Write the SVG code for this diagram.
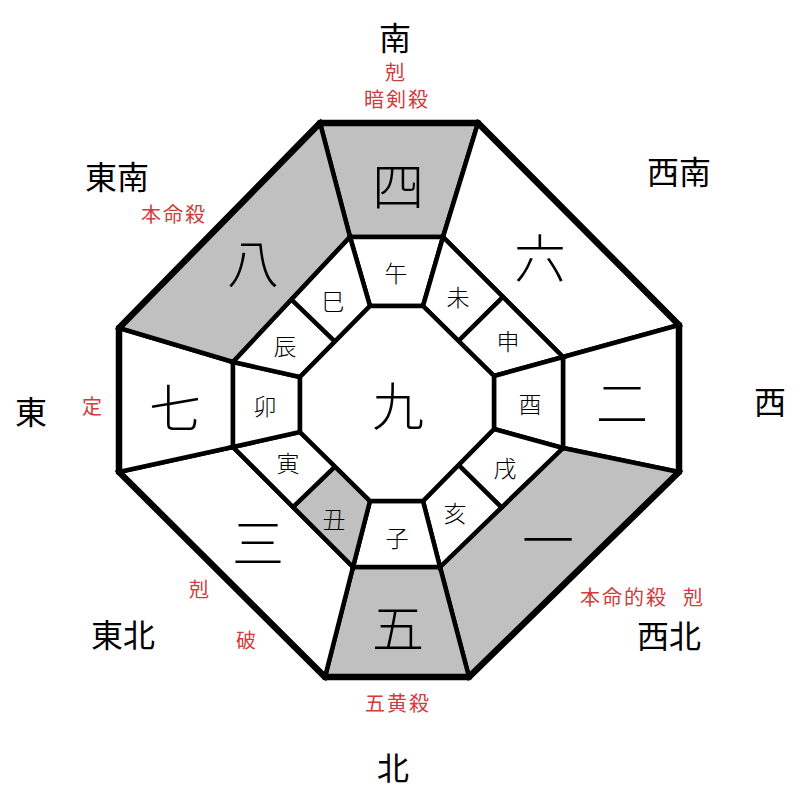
<svg xmlns="http://www.w3.org/2000/svg" width="800" height="800" viewBox="0 0 800 800">
<style>
.cell{fill:#ffffff;stroke:#000;stroke-width:4.5;stroke-linejoin:miter}
.gray{fill:#c0c0c0}
.outer{fill:none;stroke:#000;stroke-width:6.5;stroke-linejoin:miter}
text{font-family:"Noto Sans CJK JP","Noto Sans CJK SC",sans-serif;text-anchor:middle;dominant-baseline:central}
.num{font-size:52px;font-weight:300;fill:#000}
.br{font-size:23px;font-weight:300;fill:#000}
.dir{font-size:32px;fill:#000}
.red{font-size:20px;fill:#d03c3c;letter-spacing:2px}
</style>
<rect width="800" height="800" fill="#fff"/>
<g id="ring-outer">
<g id="n4"><polygon class="cell gray" points="320,123 478,123 443,237 350,237"/><text class="num" x="398" y="183">四</text></g>
<g id="n6"><polygon class="cell" points="478,123 679,325 563,357 443,237"/><text class="num" x="540" y="255">六</text></g>
<g id="n2"><polygon class="cell" points="679,325 679,472 563,448 563,357"/><text class="num" x="622" y="400">二</text></g>
<g id="n1"><polygon class="cell gray" points="679,472 469,677 440,567 563,448"/><text class="num" x="548" y="537">一</text></g>
<g id="n5"><polygon class="cell gray" points="469,677 325,677 353,567 440,567"/><text class="num" x="398" y="625">五</text></g>
<g id="n3"><polygon class="cell" points="325,677 119,472 233,447 353,567"/><text class="num" x="258" y="540">三</text></g>
<g id="n7"><polygon class="cell" points="119,472 119,328 233,362 233,447"/><text class="num" x="175" y="405">七</text></g>
<g id="n8"><polygon class="cell gray" points="119,328 320,123 350,237 233,362"/><text class="num" x="253" y="260">八</text></g>
</g>
<g id="ring-branches">
<g id="b-wu"><polygon class="cell" points="350,237 443,237 423,306 370,306"/><text class="br" x="396" y="272">午</text></g>
<g id="b-wei"><polygon class="cell" points="443,237 503,297 458.5,341 423,306"/><text class="br" x="458" y="296">未</text></g>
<g id="b-shen"><polygon class="cell" points="503,297 563,357 494,376 458.5,341"/><text class="br" x="508" y="340">申</text></g>
<g id="b-you"><polygon class="cell" points="563,357 563,448 494,429 494,376"/><text class="br" x="530" y="403">酉</text></g>
<g id="b-xu"><polygon class="cell" points="563,448 501.5,507.5 458.5,465 494,429"/><text class="br" x="505" y="467">戌</text></g>
<g id="b-hai"><polygon class="cell" points="501.5,507.5 440,567 423,501 458.5,465"/><text class="br" x="455" y="512">亥</text></g>
<g id="b-zi"><polygon class="cell" points="440,567 353,567 370,501 423,501"/><text class="br" x="397" y="537">子</text></g>
<g id="b-chou"><polygon class="cell gray" points="353,567 293,507 335,466.5 370,501"/><text class="br" x="334" y="518">丑</text></g>
<g id="b-yin"><polygon class="cell" points="293,507 233,447 300,432 335,466.5"/><text class="br" x="288" y="462">寅</text></g>
<g id="b-mao"><polygon class="cell" points="233,447 233,362 300,377 300,432"/><text class="br" x="265" y="405">卯</text></g>
<g id="b-chen"><polygon class="cell" points="233,362 291.5,299.5 335,341.5 300,377"/><text class="br" x="285" y="345">辰</text></g>
<g id="b-si"><polygon class="cell" points="291.5,299.5 350,237 370,306 335,341.5"/><text class="br" x="333" y="300">巳</text></g>
</g>
<g id="center"><polygon class="cell" points="370,306 423,306 494,376 494,429 423,501 370,501 300,432 300,377"/><text class="num" x="398" y="403">九</text></g>
<g id="connectors"><polygon class="outer" points="320,123 478,123 679,325 679,472 469,677 325,677 119,472 119,328"/></g>
<g id="labels">
<text class="dir" x="395" y="36">南</text>
<text class="red" x="396" y="71">剋</text>
<text class="red" x="397" y="98">暗剣殺</text>
<text class="dir" x="117" y="175">東南</text>
<text class="red" x="174" y="213">本命殺</text>
<text class="dir" x="679" y="170">西南</text>
<text class="dir" x="31" y="410">東</text>
<text class="red" x="93" y="405">定</text>
<text class="dir" x="770" y="400">西</text>
<text class="red" x="200" y="588">剋</text>
<text class="red" x="247" y="639">破</text>
<text class="dir" x="123" y="633">東北</text>
<text class="red" x="624" y="596">本命的殺</text>
<text class="red" x="694" y="596">剋</text>
<text class="dir" x="669" y="634">西北</text>
<text class="red" x="398" y="702">五黄殺</text>
<text class="dir" x="393" y="766">北</text>
</g>
</svg>
